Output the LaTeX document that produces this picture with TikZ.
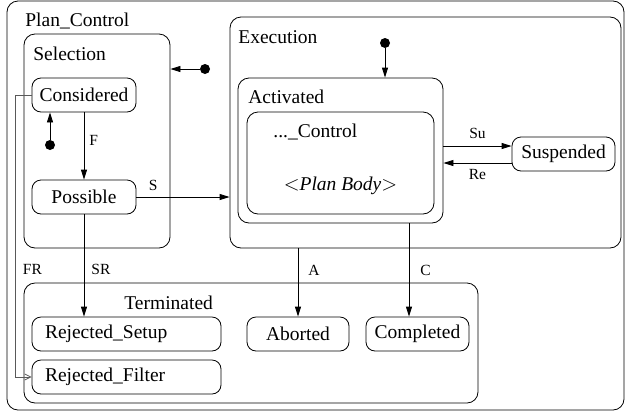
\documentclass[tikz,border=0pt]{standalone}
\usepackage{fontspec}
\setmainfont{Liberation Serif}
\usetikzlibrary{arrows.meta}

\tikzset{
  state/.style={draw, rounded corners=9pt, minimum height=34pt, inner sep=0pt},
  region/.style={draw, rounded corners=11pt, inner sep=0pt},
  startdot/.style={circle, fill, inner sep=0pt, minimum size=10pt},
  trans/.style={-{Triangle[length=10pt,width=6pt]}},
  filtertrans/.style={gray!70!black, -{Straight Barb[length=6pt,width=6pt]}},
  lbl/.style={font=\fontsize{15.5}{18}\selectfont, inner sep=0pt},
  ttl/.style={font=\fontsize{19.5}{22}\selectfont, inner sep=0pt, anchor=base west},
}

\begin{document}
\begin{tikzpicture}[x=1pt, y=-1pt, line width=0.8pt, font=\fontsize{19.5}{22}\selectfont]
                \useasboundingbox (0,0) rectangle (626,413);
                % containers
                \node[region, minimum width=617pt, minimum height=409pt] (plan) at (315.5,205.5) {};
                \node[region, minimum width=146pt, minimum height=214pt] (selection) at (97,141) {};
                \node[region, minimum width=391pt, minimum height=231pt] (execution) at (425.5,132.5) {};
                \node[region, minimum width=205pt, minimum height=145pt] (activated) at (340.5,150.5) {};
                \node[region, minimum width=187pt, minimum height=102pt] (control) at (340.5,163) {};
                \node[region, minimum width=454pt, minimum height=120pt] (terminated) at (251,343) {};
                \node[ttl] (plantitle) at (25,26) {Plan\_Control};
                \node[ttl] (seltitle) at (33,60) {Selection};
                \node[ttl] (exectitle) at (238,43) {Execution};
                \node[ttl] (acttitle) at (248,103) {Activated};
                \node[ttl] (ctrltitle) at (273,137) {...\_Control};
                \node[inner sep=0pt, anchor=base] (body) at (340.5,190) {$<$\textit{Plan Body}$>$};
                \node[ttl] (termtitle) at (124,309) {Terminated};
                % states
                \node[state, minimum width=104pt] (considered) at (84,95) {Considered};
                \node[state, minimum width=104pt] (possible) at (84,197) {Possible};
                \node[state, minimum width=103pt] (suspended) at (563.5,154) {Suspended};
                \node[state, text width=163pt, inner xsep=13pt, align=left] (rsetup) at (126.5,334) {Rejected\_Setup};
                \node[state, text width=163pt, inner xsep=13pt, align=left] (rfilter) at (126.5,377) {Rejected\_Filter};
                \node[state, minimum width=102pt] (aborted) at (298,334) {Aborted};
                \node[state, minimum width=103pt] (completed) at (417.5,334) {Completed};
                % initial states
                \node[startdot] (initplan) at (205,69) {};
                \node[startdot] (initsel) at (50,145) {};
                \node[startdot] (initexec) at (385,43) {};
                \coordinate (su) at ([yshift=8pt]suspended.west);
                \coordinate (re) at ([yshift=-9pt]suspended.west);
                \coordinate (cin) at ([xshift=-8.5pt]completed.north);
                % transitions
                \draw[trans] (initplan) -- (initplan -| selection.east);
                \draw[trans] (initsel) -- (initsel |- considered.south);
                \draw[trans] (initexec) -- (initexec |- activated.north);
                \draw[trans] (considered) -- node[lbl, pos=0.42, anchor=west, xshift=5pt] {F} (possible);
                \draw[trans] (possible) -- node[lbl, pos=0.18, anchor=south, yshift=6pt] {S} (possible -| execution.west);
                \draw[trans] (possible) -- node[lbl, pos=0.54, anchor=west, xshift=7pt] {SR} (rsetup.north -| possible);
                \draw[filtertrans] (considered.west) -- ++(-16,0) |- node[lbl, pos=0.31, anchor=west, xshift=7pt, black] {FR} (rfilter.west);
                \draw[trans] (aborted |- execution.south) -- node[lbl, pos=0.32, anchor=west, xshift=10pt] {A} (aborted);
                \draw[trans] (cin |- activated.south) -- node[lbl, pos=0.5, anchor=west, xshift=11pt] {C} (cin);
                \draw[trans] (su -| activated.east) -- node[lbl, above=7pt] {Su} (su);
                \draw[trans] (re) -- node[lbl, below=6pt] {Re} (re -| activated.east);
            \end{tikzpicture}
\end{document}
